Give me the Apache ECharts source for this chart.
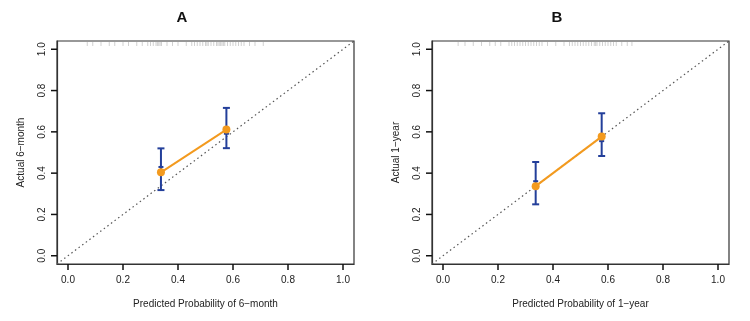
<!DOCTYPE html>
<html>
<head>
<meta charset="utf-8">
<script src="https://cdn.jsdelivr.net/npm/echarts@6/dist/echarts.min.js"></script>
<style>
html, body { margin: 0; padding: 0; background: #fff; }
#main { width: 750px; height: 321px; }
</style>
</head>
<body>
<div id="main"></div>
<script>
// tick labels shared by both panels
let ticks = [0, 0.2, 0.4, 0.6, 0.8, 1.0];

// Panel A: 6-month calibration
let predA = [0.338, 0.576];
let actualA = [0.404, 0.611];
let lowerA = [0.318, 0.521];
let upperA = [0.520, 0.716];
let markA = [0.430, 0.591];
// Panel B: 1-year calibration
let predB = [0.337, 0.577];
let actualB = [0.337, 0.577];
let lowerB = [0.249, 0.483];
let upperB = [0.454, 0.690];
let markB = [0.361, 0.555];

// rug of predicted probabilities along the top border
let rugA = [0.07, 0.09, 0.12, 0.15, 0.17, 0.20, 0.22, 0.25, 0.27, 0.29, 0.30, 0.31, 0.32, 0.325, 0.33, 0.335,
    0.34, 0.36, 0.38, 0.40, 0.43, 0.45, 0.46, 0.47, 0.48, 0.49, 0.50, 0.505, 0.51, 0.52, 0.53, 0.54,
    0.545, 0.55, 0.555, 0.56, 0.565, 0.57, 0.58, 0.59, 0.60, 0.61, 0.62, 0.63, 0.64, 0.66, 0.68, 0.71];
let rugB = [0.055, 0.08, 0.11, 0.14, 0.17, 0.19, 0.21, 0.24, 0.25, 0.26, 0.27, 0.28, 0.29, 0.30, 0.31, 0.32,
    0.33, 0.34, 0.35, 0.36, 0.38, 0.41, 0.44, 0.46, 0.47, 0.48, 0.49, 0.50, 0.51, 0.52, 0.53, 0.54,
    0.55, 0.555, 0.56, 0.57, 0.58, 0.59, 0.60, 0.61, 0.62, 0.63, 0.65, 0.67, 0.687];

let orange = '#f39a1e';
let blue = '#233f9a';
let lo = -0.04, hi = 1.04;

function zip(xs, ys) {
    return xs.map((x, i) => [x, ys[i]]);
}

function errorBars(px, lower, upper, mark) {
    return px.map((x, i) => [x, lower[i], upper[i], mark[i]]);
}

function renderBar(params, api) {
    let top = api.coord([api.value(0), api.value(2)]);
    let bot = api.coord([api.value(0), api.value(1)]);
    let mk = api.coord([api.value(0), api.value(3)]);
    let style = { stroke: blue, lineWidth: 2 };
    return {
        type: 'group',
        children: [
            { type: 'line', shape: { x1: top[0], y1: top[1], x2: bot[0], y2: bot[1] }, style: style },
            { type: 'line', shape: { x1: top[0] - 3.5, y1: top[1], x2: top[0] + 3.5, y2: top[1] }, style: style },
            { type: 'line', shape: { x1: bot[0] - 3.5, y1: bot[1], x2: bot[0] + 3.5, y2: bot[1] }, style: style },
            { type: 'line', shape: { x1: mk[0] - 2.5, y1: mk[1], x2: mk[0] + 2.5, y2: mk[1] }, style: style }
        ]
    };
}

function renderRug(params, api) {
    let p = api.coord([api.value(0), hi]);
    return {
        type: 'line',
        shape: { x1: p[0], y1: p[1] + 1, x2: p[0], y2: p[1] + 5 },
        style: { stroke: 'rgba(90,90,90,0.28)', lineWidth: 1 }
    };
}

// outward tick marks on the bottom and left sides (R style)
function renderTicks(params, api) {
    let t = api.value(0);
    let bx = api.coord([t, lo]);
    let ly = api.coord([lo, t]);
    let style = { stroke: '#111', lineWidth: 1.5 };
    return {
        type: 'group',
        children: [
            { type: 'line', shape: { x1: bx[0], y1: bx[1], x2: bx[0], y2: bx[1] + 6 }, style: style },
            { type: 'line', shape: { x1: ly[0], y1: ly[1], x2: ly[0] - 6, y2: ly[1] }, style: style }
        ]
    };
}

function xAxis(idx, name) {
    return {
        gridIndex: idx, type: 'value', min: lo, max: hi,
        name: name, nameLocation: 'middle', nameGap: 35,
        nameTextStyle: { fontFamily: 'Liberation Sans', fontSize: 10, color: '#222' },
        axisLine: { show: true, onZero: false, lineStyle: { color: '#333', width: 1.2 } },
        splitLine: { show: false },
        axisTick: { show: false },
        axisLabel: { customValues: ticks, margin: 11, formatter: v => v.toFixed(1),
            fontFamily: 'Liberation Sans', fontSize: 10, color: '#222' }
    };
}

function yAxis(idx, name) {
    return {
        gridIndex: idx, type: 'value', min: lo, max: hi,
        name: name, nameLocation: 'middle', nameGap: 31,
        nameTextStyle: { fontFamily: 'Liberation Sans', fontSize: 10, color: '#222' },
        axisLine: { show: true, onZero: false, lineStyle: { color: '#333', width: 1.2 } },
        splitLine: { show: false },
        axisTick: { show: false },
        axisLabel: { customValues: ticks, margin: 10, rotate: 90, formatter: v => v.toFixed(1),
            fontFamily: 'Liberation Sans', fontSize: 10, color: '#222' }
    };
}

function panelSeries(idx, px, py, lower, upper, mark, rug) {
    return [
        {
            type: 'custom', xAxisIndex: idx, yAxisIndex: idx, renderItem: renderRug,
            data: rug.map(v => [v, hi]), z: 1
        },
        {
            type: 'line', xAxisIndex: idx, yAxisIndex: idx, data: [[lo, lo], [hi, hi]],
            symbol: 'none', lineStyle: { color: '#555', width: 1.2, type: [1.5, 3] }, z: 1
        },
        {
            type: 'custom', xAxisIndex: idx, yAxisIndex: idx, renderItem: renderBar,
            data: errorBars(px, lower, upper, mark), z: 2
        },
        {
            type: 'line', xAxisIndex: idx, yAxisIndex: idx, data: zip(px, py),
            symbol: 'circle', symbolSize: 8, showSymbol: true,
            itemStyle: { color: orange }, lineStyle: { color: orange, width: 2 }, z: 3
        },
        {
            type: 'custom', xAxisIndex: idx, yAxisIndex: idx, renderItem: renderTicks,
            data: ticks.map(v => [v]), clip: false
        }
    ];
}

let myChart = echarts.init(document.getElementById('main'));
let option = {
    animation: false,
    backgroundColor: '#fff',
    title: [
        { text: 'A', left: 177, top: 5, textAlign: 'center',
            textStyle: { fontFamily: 'Liberation Sans', fontSize: 15, fontWeight: 'bold', color: '#111' } },
        { text: 'B', left: 552, top: 5, textAlign: 'center',
            textStyle: { fontFamily: 'Liberation Sans', fontSize: 15, fontWeight: 'bold', color: '#111' } }
    ],
    grid: [
        { left: 57, top: 41, width: 297, height: 223, show: true, borderColor: '#333', borderWidth: 1.2 },
        { left: 432, top: 41, width: 297, height: 223, show: true, borderColor: '#333', borderWidth: 1.2 }
    ],
    xAxis: [xAxis(0, 'Predicted Probability of 6\u2212month'), xAxis(1, 'Predicted Probability of 1\u2212year')],
    yAxis: [yAxis(0, 'Actual 6\u2212month'), yAxis(1, 'Actual 1\u2212year')],
    series: [].concat(
        panelSeries(0, predA, actualA, lowerA, upperA, markA, rugA),
        panelSeries(1, predB, actualB, lowerB, upperB, markB, rugB)
    )
};
myChart.setOption(option);
</script>
</body>
</html>
